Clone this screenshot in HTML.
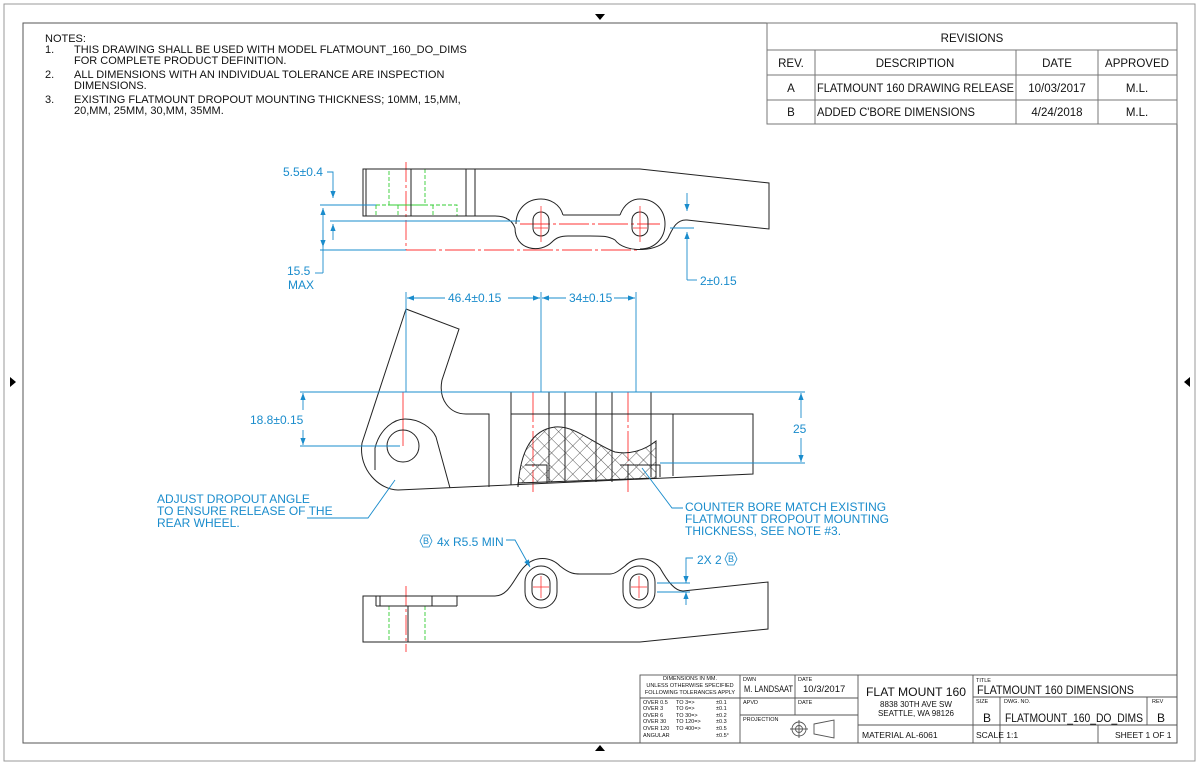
<!DOCTYPE html>
<html><head><meta charset="utf-8"><style>
html,body{margin:0;padding:0;background:#fff;}
svg{display:block;font-family:"Liberation Sans",sans-serif;}
</style></head><body>
<svg width="1200" height="765" viewBox="0 0 1200 765" xmlns="http://www.w3.org/2000/svg">
<defs>
<pattern id="hatch" width="10" height="10" patternUnits="userSpaceOnUse" patternTransform="rotate(45)">
<line x1="0" y1="0" x2="0" y2="10" stroke="#333" stroke-width="0.8"/>
<line x1="0" y1="0" x2="10" y2="0" stroke="#333" stroke-width="0.8"/>
</pattern>
<marker id="ar" markerWidth="8" markerHeight="6" refX="8" refY="3" orient="auto"><path d="M0,0 L8,3 L0,6z" fill="#1a8ccc"/></marker>
</defs>
<rect width="1200" height="765" fill="#fff"/>
<rect x="4" y="4" width="1191" height="757" fill="none" stroke="#999" stroke-width="1"/>
<rect x="23" y="23" width="1154" height="720" fill="none" stroke="#555" stroke-width="1"/>
<path d="M595,14 L605,14 L600,20z M595,751 L605,751 L600,745z M10,377 L10,387 L16,382z M1190,377 L1190,387 L1184,382z" fill="#000"/>

<!-- notes -->
<g font-size="11" fill="#111">
<text x="45" y="42">NOTES:</text>
<text x="45" y="53">1.</text><text x="74" y="53">THIS DRAWING SHALL BE USED WITH MODEL FLATMOUNT_160_DO_DIMS</text>
<text x="74" y="64">FOR COMPLETE PRODUCT DEFINITION.</text>
<text x="45" y="78">2.</text><text x="74" y="78">ALL DIMENSIONS WITH AN INDIVIDUAL TOLERANCE ARE INSPECTION</text>
<text x="74" y="89">DIMENSIONS.</text>
<text x="45" y="103">3.</text><text x="74" y="103">EXISTING FLATMOUNT DROPOUT MOUNTING THICKNESS; 10MM, 15,MM,</text>
<text x="74" y="114">20,MM, 25MM, 30,MM, 35MM.</text>
</g>

<!-- revisions -->
<g stroke="#777" fill="none" stroke-width="1">
<rect x="767" y="23" width="410" height="101"/>
<line x1="767" y1="50" x2="1177" y2="50"/><line x1="767" y1="75" x2="1177" y2="75"/><line x1="767" y1="100" x2="1177" y2="100"/>
<line x1="815" y1="50" x2="815" y2="124"/><line x1="1016" y1="50" x2="1016" y2="124"/><line x1="1098" y1="50" x2="1098" y2="124"/>
</g>
<g font-size="11.5" fill="#111" text-anchor="middle">
<text x="972" y="42">REVISIONS</text>
<text x="791" y="67">REV.</text><text x="915" y="67">DESCRIPTION</text><text x="1057" y="67">DATE</text><text x="1137" y="67">APPROVED</text>
<text x="791" y="92">A</text><text x="1057" y="92">10/03/2017</text><text x="1137" y="92">M.L.</text>
<text x="791" y="116">B</text><text x="1057" y="116">4/24/2018</text><text x="1137" y="116">M.L.</text>
</g>
<g font-size="11.5" fill="#111">
<text x="817" y="92" textLength="197" lengthAdjust="spacingAndGlyphs">FLATMOUNT 160 DRAWING RELEASE</text>
<text x="817" y="116" textLength="158" lengthAdjust="spacingAndGlyphs">ADDED C'BORE DIMENSIONS</text>
</g>

<!-- TOP VIEW -->
<g fill="none" stroke="#f33" stroke-width="0.9">
<line x1="406" y1="162" x2="406" y2="250" stroke-dasharray="20,3,3,3"/>
<line x1="406" y1="250" x2="640" y2="250" stroke-dasharray="30,3,3,3"/>
<line x1="520" y1="224" x2="660" y2="224" stroke-dasharray="30,3,3,3"/>
</g>
<g fill="none" stroke="#3c3" stroke-width="0.9" stroke-dasharray="4,2">
<rect x="389" y="169" width="36" height="36"/>
<rect x="376" y="205" width="81" height="11"/>
<line x1="398" y1="205" x2="398" y2="216"/><line x1="433" y1="205" x2="433" y2="216"/>
</g>
<g fill="none" stroke="#222" stroke-width="1">
<path d="M363,169 L640,169 L769,183 L769,229 L687,220 C676,219 672,230 668,238 C660,252 625,254 615,240 C608,236 604,236 590,236 L568,236 C560,236 556,238 552,242 C540,254 515,250 515,228 C512,220 505,216 495,216 L363,216 Z"/>
<path d="M563,215 L620,215 M563,215 C560,204 550,199 541,199 C526,199 516,210 516,224 M620,215 C624,204 632,199 640,199 C655,199 665,210 665,224 C665,238 655,249 640,249"/>
<line x1="366" y1="169" x2="366" y2="216"/><line x1="411" y1="169" x2="411" y2="216"/>
<line x1="466" y1="169" x2="466" y2="216"/><line x1="475" y1="169" x2="475" y2="216"/>
<rect x="533" y="212" width="16" height="24" rx="8"/>
<rect x="632" y="212" width="16" height="24" rx="8"/>
</g>
<g stroke="#f33" stroke-width="0.8">
<line x1="541" y1="206" x2="541" y2="242"/><line x1="640" y1="206" x2="640" y2="242"/>
<line x1="534" y1="228" x2="548" y2="228"/><line x1="633" y1="228" x2="647" y2="228"/>
</g>
<g stroke="#1a8ccc" fill="none" stroke-width="0.9">
<path d="M327,172 L333,172 L333,198" marker-end="url(#ar)"/>
<line x1="320" y1="205" x2="376" y2="205"/>
<line x1="330" y1="221" x2="520" y2="221"/>
<path d="M333,240 L333,224" marker-end="url(#ar)"/>
<line x1="320" y1="250" x2="406" y2="250"/>
<path d="M323,273 L323,208" marker-end="url(#ar)"/>
<path d="M323,230 L323,247" marker-end="url(#ar)"/>
<path d="M315,273 L323,273"/>
<path d="M687,193 L687,211" marker-end="url(#ar)"/>
<path d="M687,280 L687,232" marker-end="url(#ar)"/>
<line x1="687" y1="280" x2="697" y2="280"/>
<line x1="670" y1="228" x2="694" y2="228"/>
</g>
<g fill="#1a8ccc" font-size="12">
<text x="283" y="176">5.5±0.4</text>
<text x="287" y="275">15.5</text><text x="288" y="289">MAX</text>
<text x="700" y="285">2±0.15</text>
</g>

<!-- MIDDLE VIEW -->
<g fill="none" stroke="#f33" stroke-width="0.9">
<path d="M403,392 L510,392" stroke-dasharray="30,3,3,3"/>
<line x1="403" y1="392" x2="403" y2="446"/>
<line x1="533" y1="392" x2="533" y2="492" stroke-dasharray="30,3,3,3"/>
<line x1="628" y1="392" x2="628" y2="492" stroke-dasharray="30,3,3,3"/>
</g>
<path d="M518,487 C520,455 530,430 555,427 C575,425 595,445 615,452 C630,455 645,450 656,441 L656,478 L518,483 Z" fill="url(#hatch)" stroke="#222" stroke-width="1"/>
<g fill="none" stroke="#222" stroke-width="1">
<path d="M406,309 L459,329 L442,380 C438,400 450,414 466,414 L489,414 L489,487"/>
<path d="M406,309 L362,443 C358,470 380,490 398,490 L753,474 L753,414 L650,414"/>
<path d="M375,470 L375,448 C380,428 395,419 405,419 C420,419 432,428 436,437 L450,488"/>
<circle cx="403" cy="446" r="16"/>
<rect x="511" y="392" width="140" height="22"/>
<line x1="511" y1="414" x2="511" y2="485"/><line x1="651" y1="414" x2="651" y2="477"/>
<line x1="549" y1="392" x2="549" y2="482"/><line x1="565" y1="392" x2="565" y2="482"/>
<line x1="596" y1="392" x2="596" y2="482"/><line x1="612" y1="392" x2="612" y2="482"/>
<line x1="673" y1="414" x2="673" y2="476"/>
<path d="M525,465 L547,465 L547,483 M620,465 L660,465 L660,477 M628,465 L628,480"/>
</g>
<g stroke="#1a8ccc" fill="none" stroke-width="0.9">
<line x1="406" y1="292" x2="406" y2="392"/>
<line x1="541" y1="292" x2="541" y2="392"/>
<line x1="636" y1="292" x2="636" y2="392"/>
<path d="M445,298 L407,298" marker-end="url(#ar)"/>
<path d="M508,298 L540,298" marker-end="url(#ar)"/>
<path d="M566,298 L542,298" marker-end="url(#ar)"/>
<path d="M614,298 L635,298" marker-end="url(#ar)"/>
<line x1="300" y1="392" x2="805" y2="392"/>
<line x1="300" y1="446" x2="400" y2="446"/>
<path d="M303,410 L303,393" marker-end="url(#ar)"/>
<path d="M303,430 L303,445" marker-end="url(#ar)"/>
<line x1="660" y1="463" x2="805" y2="463"/>
<path d="M801,418 L801,393" marker-end="url(#ar)"/>
<path d="M801,438 L801,462" marker-end="url(#ar)"/>
<path d="M307,518 L368,518 L395,480"/>
<path d="M683,508 L672,508 L642,468"/>
</g>
<g fill="#1a8ccc" font-size="12">
<text x="448" y="302">46.4±0.15</text>
<text x="569" y="302">34±0.15</text>
<text x="250" y="424">18.8±0.15</text>
<text x="793" y="433">25</text>
<text x="157" y="503">ADJUST DROPOUT ANGLE</text>
<text x="157" y="515">TO ENSURE RELEASE OF THE</text>
<text x="157" y="527">REAR WHEEL.</text>
<text x="685" y="511">COUNTER BORE MATCH EXISTING</text>
<text x="685" y="523">FLATMOUNT DROPOUT MOUNTING</text>
<text x="685" y="535">THICKNESS, SEE NOTE #3.</text>
<text x="437" y="546">4x R5.5 MIN</text>
<text x="697" y="564">2X 2</text>
</g>
<g stroke="#1a8ccc" fill="none" stroke-width="0.8">
<path d="M423,535 L429,535 L432,541 L429,547 L423,547 L420,541Z"/>
<path d="M728,553 L734,553 L737,559 L734,565 L728,565 L725,559Z"/>
</g>
<g fill="#1a8ccc" font-size="9" text-anchor="middle"><text x="426" y="544">B</text><text x="731" y="562">B</text></g>

<!-- BOTTOM VIEW -->
<g fill="none" stroke="#f33" stroke-width="0.9">
<line x1="406" y1="586" x2="406" y2="652" stroke-dasharray="20,3,3,3"/>
</g>
<g fill="none" stroke="#3c3" stroke-width="0.9" stroke-dasharray="4,2">
<path d="M389,606 L389,642 M425,606 L425,642 M376,606 L457,606"/>
</g>
<g fill="none" stroke="#222" stroke-width="1">
<path d="M363,596 L495,596 C510,596 515,575 525,566 C535,556 550,556 560,566 C570,574 575,574 580,574 L610,574 C615,574 620,570 625,566 C635,556 650,556 660,568 C668,582 675,591 683,591 L768,582 L768,629 L640,642 L363,642 Z"/>
<line x1="376" y1="596" x2="376" y2="606"/><line x1="380" y1="596" x2="380" y2="606"/>
<line x1="432" y1="596" x2="432" y2="606"/><line x1="457" y1="596" x2="457" y2="606"/>
<line x1="376" y1="606" x2="457" y2="606"/>
<line x1="408" y1="606" x2="408" y2="642"/>
<rect x="525" y="566" width="32" height="42" rx="16"/>
<rect x="532" y="574" width="18" height="26" rx="9"/>
<rect x="623" y="566" width="32" height="42" rx="16"/>
<rect x="630" y="574" width="18" height="26" rx="9"/>
</g>
<g stroke="#f33" stroke-width="0.8">
<line x1="541" y1="576" x2="541" y2="598"/><line x1="639" y1="576" x2="639" y2="598"/>
<line x1="533" y1="587" x2="549" y2="587"/><line x1="631" y1="587" x2="647" y2="587"/>
</g>
<g stroke="#1a8ccc" fill="none" stroke-width="0.9">
<path d="M506,540 L515,540 L530,567" marker-end="url(#ar)"/>
<path d="M693,558 L686,558 L686,583" marker-end="url(#ar)"/>
<path d="M686,605 L686,592" marker-end="url(#ar)"/>
<line x1="657" y1="583" x2="690" y2="583"/>
<line x1="657" y1="592" x2="690" y2="592"/>
</g>

<!-- TITLE BLOCK -->
<g stroke="#555" fill="none" stroke-width="0.9">
<rect x="640" y="675" width="537" height="68"/>
<line x1="740" y1="675" x2="740" y2="743"/>
<line x1="795" y1="675" x2="795" y2="715"/>
<line x1="858" y1="675" x2="858" y2="743"/>
<line x1="973" y1="675" x2="973" y2="743"/>
<line x1="640" y1="698" x2="740" y2="698"/>
<line x1="740" y1="698" x2="858" y2="698"/>
<line x1="740" y1="715" x2="858" y2="715"/>
<line x1="858" y1="725" x2="973" y2="725"/>
<line x1="973" y1="697" x2="1177" y2="697"/>
<line x1="973" y1="725" x2="1177" y2="725"/>
<line x1="1000" y1="697" x2="1000" y2="743"/>
<line x1="1147" y1="697" x2="1147" y2="725"/>
<line x1="1098" y1="725" x2="1098" y2="743"/>
<circle cx="799" cy="729" r="7"/><circle cx="799" cy="729" r="3.5"/>
<line x1="790" y1="729" x2="808" y2="729"/><line x1="799" y1="720" x2="799" y2="738"/>
<path d="M814,724 L834,720 L834,738 L814,734 Z"/>
</g>
<g fill="#111" font-size="5.5">
<text x="690" y="680" text-anchor="middle">DIMENSIONS IN MM.</text>
<text x="690" y="687" text-anchor="middle">UNLESS OTHERWISE SPECIFIED</text>
<text x="690" y="694" text-anchor="middle">FOLLOWING TOLERANCES APPLY</text>
<text x="643" y="704">OVER 0.5</text><text x="676" y="704">TO 3=&gt;</text><text x="716" y="704">±0.1</text>
<text x="643" y="710">OVER 3</text><text x="676" y="710">TO 6=&gt;</text><text x="716" y="710">±0.1</text>
<text x="643" y="717">OVER 6</text><text x="676" y="717">TO 30=&gt;</text><text x="716" y="717">±0.2</text>
<text x="643" y="723">OVER 30</text><text x="676" y="723">TO 120=&gt;</text><text x="716" y="723">±0.3</text>
<text x="643" y="730">OVER 120</text><text x="676" y="730">TO 400=&gt;</text><text x="716" y="730">±0.5</text>
<text x="643" y="737">ANGULAR</text><text x="716" y="737">±0.5°</text>
<text x="743" y="681">DWN</text><text x="798" y="681">DATE</text>
<text x="743" y="704">APVD</text><text x="798" y="704">DATE</text>
<text x="743" y="721">PROJECTION</text>
<text x="976" y="682">TITLE</text><text x="976" y="703">SIZE</text><text x="1004" y="703">DWG. NO.</text><text x="1152" y="703">REV</text>
</g>
<g fill="#111">
<text x="744" y="692" font-size="9" textLength="49" lengthAdjust="spacingAndGlyphs">M. LANDSAAT</text>
<text x="803" y="692" font-size="9.5">10/3/2017</text>
<text x="916" y="696" font-size="12" text-anchor="middle" textLength="100" lengthAdjust="spacingAndGlyphs">FLAT MOUNT 160</text>
<text x="916" y="707" font-size="8" text-anchor="middle">8838 30TH AVE SW</text>
<text x="916" y="716" font-size="8" text-anchor="middle">SEATTLE, WA 98126</text>
<text x="862" y="738" font-size="8.5">MATERIAL  AL-6061</text>
<text x="977" y="694" font-size="11.5" textLength="157" lengthAdjust="spacingAndGlyphs">FLATMOUNT 160 DIMENSIONS</text>
<text x="983" y="722" font-size="12">B</text>
<text x="1005" y="722" font-size="11.5" textLength="138" lengthAdjust="spacingAndGlyphs">FLATMOUNT_160_DO_DIMS</text>
<text x="1157" y="722" font-size="12">B</text>
<text x="976" y="738" font-size="8.5">SCALE 1:1</text>
<text x="1115" y="738" font-size="8.5">SHEET 1 OF 1</text>
</g>
</svg>
</body></html>
